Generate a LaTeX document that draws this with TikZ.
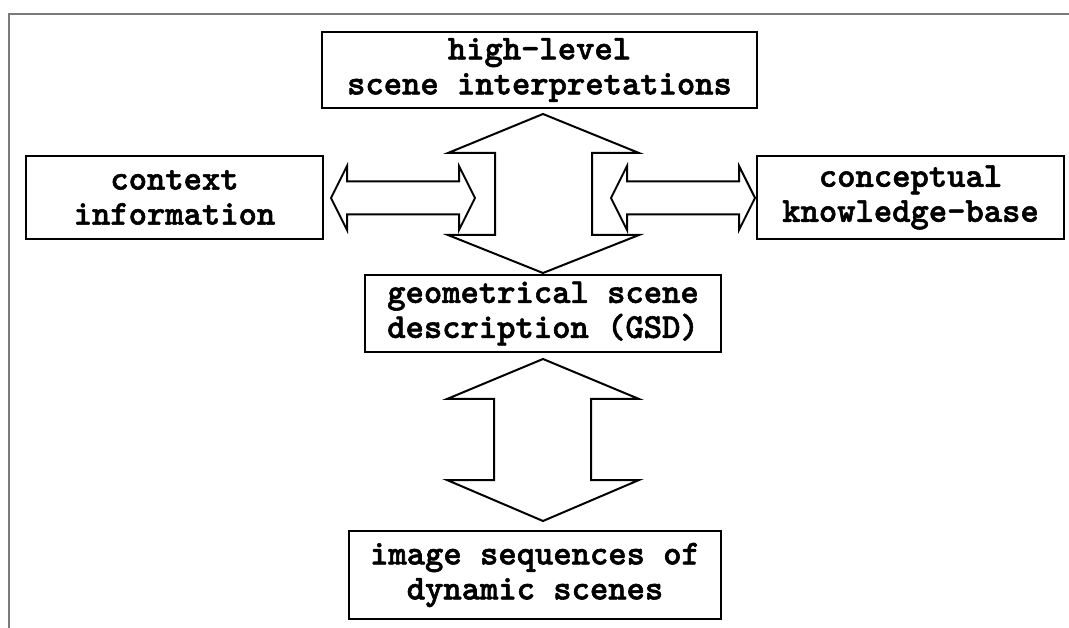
\documentclass[tikz,border=0pt]{standalone}
\usepackage{fontspec}
\newfontfamily\boxfont[FakeBold=1.6]{lmmonolt10-bold.otf}
\begin{document}
\begin{tikzpicture}[x=1pt,y=-1pt,
  box/.style={draw,line width=2pt,inner sep=0pt,align=center,
    font=\boxfont\fontsize{34.9}{35}\selectfont},
  bigarrow/.style={draw,line width=2pt,line join=miter,fill=white},
  frameline/.style={draw=black!52,line width=2pt}]
\useasboundingbox (0,0) rectangle (1069,628);

% outer frame (left and top edges only)
\draw[frameline] (9,628) -- (9,14) -- (1069,14);

% boxes
\node[box,minimum width=435,minimum height=76] (hl) at (539.5,70)
  {high-level\\scene interpretations};
\node[box,minimum width=297,minimum height=83] (ctx) at (174.5,197.5)
  {context\\information};
\node[box,minimum width=307,minimum height=83] (kb) at (910.5,197.5)
  {conceptual\\knowledge-base};
\node[box,minimum width=356,minimum height=77] (gsd) at (543,313.5)
  {geometrical scene\\description (GSD)};
\node[box,minimum width=372,minimum height=88] (img) at (535,575)
  {image sequences of\\dynamic scenes};

% high-level <-> GSD
\draw[bigarrow] (543,114) -- (639,153) -- (592,153) -- (592,235) -- (639,235)
  -- (543,273) -- (448,235) -- (495,235) -- (495,153) -- (448,153) -- cycle;

% GSD <-> image sequences
\draw[bigarrow] (543,359) -- (639,399) -- (591,399) -- (591,480) -- (639,480)
  -- (543,521) -- (447,480) -- (494,480) -- (494,399) -- (447,399) -- cycle;

% context <-> interpretation link
\draw[bigarrow] (331,198) -- (347,166) -- (347,181.5) -- (459,181.5) -- (459,166)
  -- (475,198) -- (459,230) -- (459,214.5) -- (347,214.5) -- (347,230) -- cycle;

% interpretation link <-> knowledge-base
\draw[bigarrow] (611,198) -- (627,166) -- (627,181.5) -- (739,181.5) -- (739,166)
  -- (755,198) -- (739,230) -- (739,214.5) -- (627,214.5) -- (627,230) -- cycle;
\end{tikzpicture}
\end{document}
